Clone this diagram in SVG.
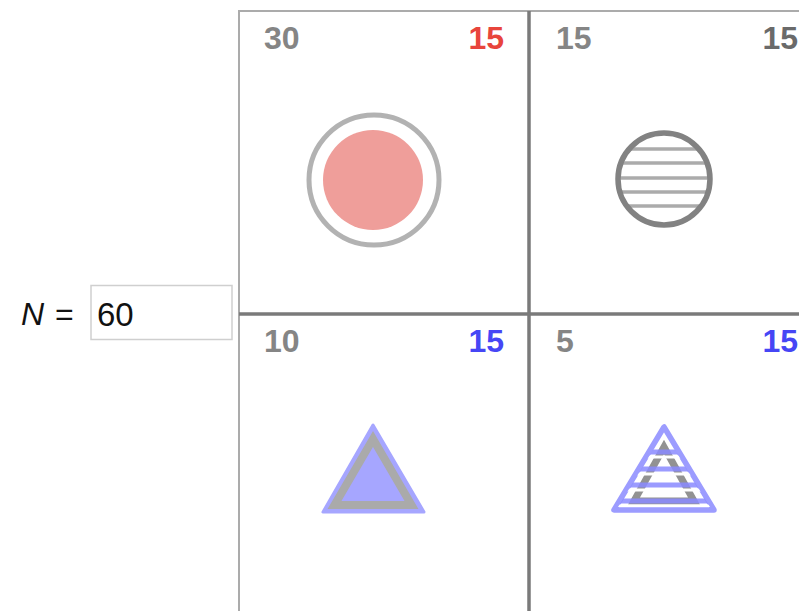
<svg xmlns="http://www.w3.org/2000/svg" width="799" height="611" viewBox="0 0 799 611">
<style>
.lbl{font-family:"Liberation Sans",Arial,sans-serif;font-weight:bold;font-size:32px}
.g{fill:#858585}
.dg{fill:#6a6a6a}
.r{fill:#e8453c}
.b{fill:#4646f5}
.outer{stroke:#ababab;stroke-width:2;fill:none}
.inner{stroke:#7a7a7a;stroke-width:3.5;fill:none}
</style>
<defs>
<clipPath id="cclip"><circle cx="664" cy="179" r="45"/></clipPath>
<clipPath id="tclip"><polygon points="664,432 618,507 710,507"/></clipPath>
</defs>
<rect width="799" height="611" fill="#ffffff"/>
<g id="grid">
<line class="outer" x1="239" y1="11" x2="239" y2="611"/>
<line class="outer" x1="238" y1="11" x2="799" y2="11"/>
<line class="inner" x1="529" y1="11" x2="529" y2="611"/>
<line class="inner" x1="239" y1="314" x2="799" y2="314"/>
</g>
<g id="input">
<text x="21" y="325" font-family="Liberation Sans,Arial,sans-serif" font-size="32" font-style="italic" fill="#111">N</text>
<text x="55" y="325" font-family="Liberation Sans,Arial,sans-serif" font-size="32" fill="#111">=</text>
<rect x="91" y="285.5" width="141" height="54" fill="#fff" stroke="#cfcfcf" stroke-width="1.5"/>
<text x="97" y="326" font-family="Liberation Sans,Arial,sans-serif" font-size="33" fill="#111">60</text>
</g>
<g id="cell-tl">
<text class="lbl g" x="264" y="49">30</text>
<text class="lbl r" x="504" y="49" text-anchor="end">15</text>
<circle cx="374" cy="180" r="65" fill="none" stroke="#b2b2b2" stroke-width="5"/>
<circle cx="373" cy="180" r="50" fill="#ef9e9a"/>
</g>
<g id="cell-tr">
<text class="lbl g" x="556" y="49">15</text>
<text class="lbl dg" x="798" y="49" text-anchor="end">15</text>
<g clip-path="url(#cclip)" stroke="#ababab" stroke-width="3.5">
<line x1="610" y1="149" x2="720" y2="149"/>
<line x1="610" y1="163" x2="720" y2="163"/>
<line x1="610" y1="178" x2="720" y2="178"/>
<line x1="610" y1="192" x2="720" y2="192"/>
<line x1="610" y1="206" x2="720" y2="206"/>
</g>
<circle cx="664" cy="179" r="46" fill="none" stroke="#828282" stroke-width="5.5"/>
</g>
<g id="cell-bl">
<text class="lbl g" x="264" y="352">10</text>
<text class="lbl b" x="504" y="352" text-anchor="end">15</text>
<polygon points="373,425 323,512 424,512" fill="#a6a6ff" stroke="#a6a6ff" stroke-width="3" stroke-linejoin="round"/>
<polygon points="373,439 334.5,505 411.5,505" fill="none" stroke="#aaaaaa" stroke-width="8"/>
</g>
<g id="cell-br">
<text class="lbl g" x="556" y="352">5</text>
<text class="lbl b" x="798" y="352" text-anchor="end">15</text>
<polygon points="664,427 614,510 714,510" fill="#ffffff" stroke="#9c9cff" stroke-width="5.5" stroke-linejoin="round"/>
<polygon points="664,447 634,501 694,501" fill="none" stroke="#929292" stroke-width="7"/>
<g clip-path="url(#tclip)">
<g stroke="#ffffff" stroke-width="3">
<line x1="600" y1="457" x2="730" y2="457"/>
<line x1="600" y1="474" x2="730" y2="474"/>
<line x1="600" y1="490" x2="730" y2="490"/>
<line x1="600" y1="506" x2="730" y2="506"/>
</g>
<g stroke="#8a8aff" stroke-width="5" opacity="0.85">
<line x1="600" y1="452" x2="730" y2="452"/>
<line x1="600" y1="469" x2="730" y2="469"/>
<line x1="600" y1="485" x2="730" y2="485"/>
<line x1="600" y1="501" x2="730" y2="501"/>
</g>
</g>
</g>
</svg>
